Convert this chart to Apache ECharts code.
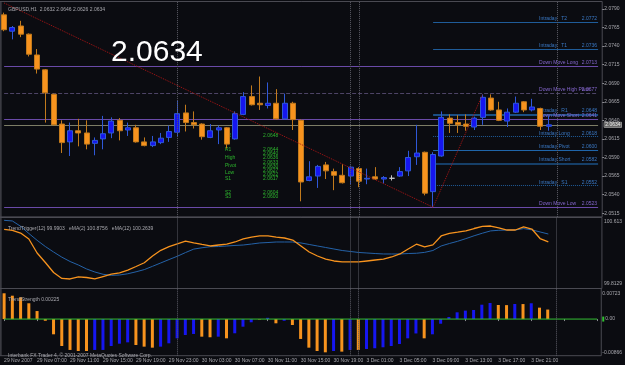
<!DOCTYPE html>
<html>
<head>
<meta charset="utf-8">
<script src="https://cdn.jsdelivr.net/npm/echarts@6/dist/echarts.min.js"></script>
<style>
html,body{margin:0;padding:0;background:#0b0c11;}
#main{width:625px;height:365px;}
</style>
</head>
<body>
<div id="main"></div>
<script>
// GBPUSD H1, 29 Nov 2007 03:00 .. 3 Dec 2007 23:00
var opens = [2.0782,2.0760,2.0767,2.0756,2.0728,2.0708,2.0675,2.0635,2.0611,2.0626,
2.0623,2.0609,2.0615,2.0623,2.0640,2.0627,2.0630,2.0611,2.0606,2.0610,
2.0617,2.0624,2.0650,2.0637,2.0635,2.0617,2.0627,2.0630,2.0615,2.0648,
2.0672,2.0663,2.0660,2.0663,2.0642,2.0663,2.0640,2.0559,2.0565,2.0580,
2.0571,2.0566,2.0565,2.0575,2.0561,2.0564,2.0561,2.0562,2.0565,2.0572,
2.0591,2.0597,2.0544,2.0592,2.0643,2.0637,2.0635,2.0631,2.0644,2.0670,
2.0654,2.0639,2.0651,2.0665,2.0654,2.0656,2.0632];
var closes = [2.0762,2.0765,2.0756,2.0729,2.0709,2.0677,2.0634,2.0610,2.0626,2.0623,
2.0608,2.0613,2.0622,2.0639,2.0626,2.0630,2.0611,2.0606,2.0611,2.0616,
2.0625,2.0649,2.0637,2.0634,2.0618,2.0626,2.0630,2.0608,2.0649,2.0672,
2.0661,2.0661,2.0663,2.0642,2.0663,2.0641,2.0557,2.0564,2.0578,2.0572,
2.0566,2.0556,2.0577,2.0558,2.0562,2.0561,2.0563,2.0562,2.0571,2.0590,
2.0596,2.0542,2.0594,2.0644,2.0636,2.0634,2.0632,2.0643,2.0671,2.0654,
2.0640,2.0651,2.0663,2.0654,2.0658,2.0632,2.0634];
var highs = [2.0785,2.0767,2.0774,2.0757,2.0736,2.0709,2.0676,2.0640,2.0637,2.0642,
2.0640,2.0617,2.0646,2.0644,2.0643,2.0637,2.0634,2.0617,2.0619,2.0623,
2.0633,2.0666,2.0661,2.0652,2.0636,2.0635,2.0633,2.0631,2.0652,2.0678,
2.0687,2.0699,2.0691,2.0682,2.0676,2.0665,2.0641,2.0585,2.0580,2.0584,
2.0575,2.0581,2.0579,2.0577,2.0575,2.0577,2.0565,2.0566,2.0577,2.0599,
2.0634,2.0598,2.0597,2.0652,2.0648,2.0647,2.0648,2.0645,2.0675,2.0675,
2.0665,2.0656,2.0672,2.0666,2.0669,2.0657,2.0646];
var lows = [2.0760,2.0749,2.0752,2.0726,2.0703,2.0637,2.0633,2.0596,2.0592,2.0605,
2.0601,2.0593,2.0601,2.0616,2.0613,2.0619,2.0610,2.0605,2.0604,2.0608,
2.0611,2.0618,2.0625,2.0629,2.0614,2.0616,2.0608,2.0602,2.0614,2.0647,
2.0660,2.0654,2.0656,2.0641,2.0641,2.0627,2.0531,2.0558,2.0549,2.0561,
2.0546,2.0555,2.0554,2.0550,2.0554,2.0560,2.0555,2.0559,2.0564,2.0565,
2.0580,2.0539,2.0523,2.0591,2.0623,2.0623,2.0626,2.0627,2.0634,2.0653,
2.0639,2.0631,2.0650,2.0651,2.0652,2.0627,2.0626];

// x labels, every 4th bar
var xLabels = ['29 Nov 2007','29 Nov 07:00','29 Nov 11:00','29 Nov 15:00','29 Nov 19:00','29 Nov 23:00',
'30 Nov 03:00','30 Nov 07:00','30 Nov 11:00','30 Nov 15:00','30 Nov 19:00',
'3 Dec 01:00','3 Dec 05:00','3 Dec 09:00','3 Dec 13:00','3 Dec 17:00','3 Dec 21:00'];
var priceTicks = [2.0515,2.0540,2.0565,2.0590,2.0615,2.0640,2.0665,2.0690,2.0715,2.0740,2.0765,2.0790];
var lastPrice = 2.0634;

// zigzag
var zigIdx = [0, 52, 58];
var zigVal = [2.0798, 2.0523, 2.0675];

// levels
var levelNames = ['Intraday   T2','Intraday   T1','Down Move Long','Down Move High Pivot','Intraday   R1',
'Down Move Short','Intraday Long','Intraday Pivot','Intraday Short','Intraday   S1','Down Move Low'];
var levelVals = [2.0772,2.0736,2.0713,2.0677,2.0648,2.0641,2.0618,2.0600,2.0582,2.0552,2.0523];
var levelFrom = 52;   // intraday levels start bar

// day separators (bar index)
var separators = [21, 42, 43, 67];

// indicator window 1
var trigger = [100.480,100.469,100.438,100.371,100.213,100.106,99.993,99.926,99.920,99.945,
99.937,99.922,99.948,99.974,99.990,100.021,100.061,100.103,100.179,100.243,
100.284,100.317,100.348,100.328,100.309,100.292,100.303,100.314,100.337,100.371,
100.393,100.405,100.405,100.393,100.382,100.359,100.292,100.224,100.179,100.145,
100.123,100.112,100.112,100.112,100.123,100.134,100.145,100.168,100.202,100.258,
100.312,100.281,100.305,100.405,100.433,100.447,100.463,100.489,100.512,100.517,
100.495,100.472,100.472,100.508,100.483,100.376,100.339];
var signal = [100.581,100.574,100.514,100.433,100.356,100.286,100.224,100.166,100.117,100.078,
100.033,99.999,99.973,99.961,99.965,99.979,100.001,100.026,100.063,100.101,
100.139,100.176,100.218,100.257,100.272,100.284,100.286,100.292,100.298,100.303,
100.314,100.326,100.331,100.337,100.337,100.337,100.326,100.309,100.292,100.275,
100.258,100.241,100.230,100.219,100.213,100.207,100.202,100.202,100.202,100.207,
100.210,100.220,100.241,100.292,100.320,100.345,100.375,100.407,100.436,100.462,
100.469,100.472,100.472,100.488,100.474,100.450,100.427];
var trigTicks = [99.8129, 100.613];

// indicator window 2
var strength = [0.0061,0.00553,0.00515,0.00374,0.0019,-0.0004,-0.0036,-0.00636,-0.0073,-0.00755,
-0.00755,-0.0073,-0.0073,-0.00636,-0.00582,-0.0055,-0.00613,-0.00652,-0.00676,-0.00652,
-0.00573,-0.00455,-0.00376,-0.00352,-0.00416,-0.0043,-0.00416,-0.00455,-0.00336,-0.0018,
-0.00076,-0.0001,0.0003,-0.001,-0.0004,-0.0014,-0.0047,-0.00676,-0.00755,-0.00786,
-0.00755,-0.0077,-0.0073,-0.0073,-0.00707,-0.0069,-0.00667,-0.00636,-0.00589,-0.00455,
-0.0034,-0.00455,-0.0036,-0.0011,0.0005,0.0016,0.002,0.00215,0.0034,0.0038,
0.00333,0.0033,0.00357,0.00355,0.00374,0.0027,0.00225];
var strengthDir = ('ddddddddddd'+'uuuuu'+'ddd'+'uuuuu'+'dd'+'u'+'d'+'uuu'+'d'+'u'+'d'+'u'+'ddddd'+
  'u'+'d'+'u'+'d'+'uuuuuuu'+'d'+'uuuuuuuu'+'dd'+'u'+'d'+'u'+'dd').split('');
var strTicks = [-0.00866, 0, 0.00723];
var zeroLevel = 0;

var BG = '#0b0c11', FRAME = '#4a4a52', TXT = '#a8a8ae';
var ORANGE = '#f7931e', BLUE = '#1616f0';
var FONT = 'Liberation Sans';

var nCats = 73;
var cats = [];
for (var i = 0; i < nCats; i++) cats.push(String(i));

var candles = [];
for (var i = 0; i < opens.length; i++) {
  var item = {value: [opens[i], closes[i], lows[i], highs[i]]};
  if (opens[i] === closes[i]) {
    item.itemStyle = {color: '#c8c8c8', color0: '#c8c8c8', borderColor: '#c8c8c8', borderColor0: '#c8c8c8'};
  }
  candles.push(item);
}

var zig = [];
for (var i = 0; i < zigIdx.length; i++) zig.push([zigIdx[i], zigVal[i]]);

var bars = [];
for (var i = 0; i < strength.length; i++) {
  bars.push({value: strength[i], itemStyle: {color: strengthDir[i] === 'u' ? BLUE : ORANGE}});
}

// style of each pivot line
var levelStyle = {
  'Intraday   T2': {c: '#1f5c99', w: 1, t: 'solid'},
  'Intraday   T1': {c: '#1f5c99', w: 1, t: 'solid'},
  'Down Move Long': {c: '#6a4aa8', w: 1, t: 'solid'},
  'Down Move High Pivot': {c: '#4d4466', w: 1, t: 'dashed'},
  'Intraday   R1': {c: '#1b4f84', w: 2, t: 'solid'},
  'Down Move Short': {c: '#6a4aa8', w: 1, t: 'solid'},
  'Intraday Long': {c: '#1f5c99', w: 1, t: 'dotted'},
  'Intraday Pivot': {c: '#1f65aa', w: 1, t: 'solid'},
  'Intraday Short': {c: '#163f68', w: 2, t: 'solid'},
  'Intraday   S1': {c: '#1f5c99', w: 1, t: 'dotted'},
  'Down Move Low': {c: '#6a4aa8', w: 1, t: 'solid'}
};

function levelLabel(name, v, col) {
  return {
    show: true, position: 'insideEndTop', distance: [1, 1],
    formatter: '{n|' + name + '}{p|' + v.toFixed(4) + '}',
    color: col, fontSize: 5, fontFamily: FONT,
    rich: {n: {width: 42, align: 'left', fontSize: 5, color: col}, p: {width: 16, align: 'right', fontSize: 5, color: col}}
  };
}

// all lines as explicit two-point segments (bar index -> price)
var levelLines = [];
levelNames.forEach(function (name, i) {
  var st = levelStyle[name];
  var v = levelVals[i];
  var intraday = name.indexOf('Intraday') === 0;
  var col = intraday ? '#3a78c4' : '#8466cc';
  var ls = {color: st.c, width: st.w, type: st.t};
  levelLines.push([
    {coord: [intraday ? levelFrom : 0, v], lineStyle: ls, label: levelLabel(name, v, col)},
    {coord: [nCats - 1, v]}
  ]);
});
levelLines.push([
  {coord: [0, lastPrice], lineStyle: {color: '#7d7d66', width: 1, type: 'solid'}, label: {show: false}},
  {coord: [nCats - 1, lastPrice]}
]);

function sepLines() {
  return separators.map(function (s) {
    return {xAxis: s, lineStyle: {color: '#5c5c66', width: 1, type: 'dotted'}, label: {show: false}};
  });
}

var gl = -1.46, gw = 607.2;
function gridBox(top, h) {
  return {left: gl, top: top, width: gw, height: h, show: true, borderColor: FRAME, borderWidth: 1, backgroundColor: 'transparent'};
}

function hiddenX(idx) {
  return {type: 'category', gridIndex: idx, data: cats, boundaryGap: true, show: false};
}

var green = [
  ['R2', 225, 136], ['R1', 225, 150], ['High', 225, 158], ['Pivot', 225, 166], ['Low', 225, 173],
  ['S1', 225, 179], ['S2', 225, 193], ['S3', 225, 197],
  ['2.0648', 263, 136], ['2.0644', 263, 150], ['2.0640', 263, 154], ['2.0636', 263, 158],
  ['2.0633', 263, 163], ['2.0630', 263, 167], ['2.0627', 263, 171], ['2.0622', 263, 175],
  ['2.0617', 263, 179], ['2.0604', 263, 193], ['2.0600', 263, 197]
];

var chart = echarts.init(document.getElementById('main'));
var option = {
  backgroundColor: BG,
  animation: false,
  textStyle: {fontFamily: FONT},
  title: [
    {text: 'GBPUSD,H1  2.0632 2.0646 2.0626 2.0634', left: 3, top: 2, textStyle: {fontSize: 5, color: TXT, fontWeight: 'normal', fontFamily: FONT}},
    {text: '2.0634', left: 106, top: 33, textStyle: {fontSize: 30, color: '#ffffff', fontWeight: 'normal', fontFamily: FONT}},
    {text: 'TrendTrigger(12) 99.9903   eMA(2) 100.8756   eMA(12) 100.2639', left: 3, top: 221, textStyle: {fontSize: 5, color: TXT, fontWeight: 'normal', fontFamily: FONT}},
    {text: 'TrendStrength 0.00225', left: 3, top: 292, textStyle: {fontSize: 5, color: TXT, fontWeight: 'normal', fontFamily: FONT}},
    {text: 'Interbank FX Trader 4, \u00a9 2001-2007 MetaQuotes Software Corp.', left: 3, top: 348.5, textStyle: {fontSize: 5, color: TXT, fontWeight: 'normal', fontFamily: FONT}}
  ],
  graphic: [{type: 'line', shape: {x1: 1, y1: 1.5, x2: 1, y2: 355.7}, style: {stroke: FRAME, lineWidth: 1}, silent: true}]
    .concat(green.map(function (g) {
      return {type: 'text', x: g[1], y: g[2], silent: true,
        style: {text: g[0], fill: '#2db52d', fontSize: 5, fontFamily: FONT, verticalAlign: 'middle'}};
    })),
  grid: [gridBox(1.5, 215.4), gridBox(217.5, 71), gridBox(288.5, 67.2)],
  xAxis: [
    hiddenX(0), hiddenX(1),
    {
      type: 'category', gridIndex: 2, data: cats, boundaryGap: true,
      axisLine: {show: false},
      axisTick: {show: true, interval: 3, alignWithLabel: true, length: 2, lineStyle: {color: '#8a8a90'}},
      axisLabel: {
        interval: 3, align: 'left', fontSize: 5, color: TXT, margin: 2,
        formatter: function (v, idx) { return (idx % 4 === 0 && xLabels[idx / 4]) || ''; }
      },
      splitLine: {show: false}
    }
  ],
  yAxis: [
    {
      type: 'value', gridIndex: 0, position: 'right', min: 2.0510, max: 2.0800, scale: true,
      axisLine: {show: false}, splitLine: {show: false},
      axisTick: {show: true, length: 2, customValues: priceTicks, lineStyle: {color: '#8a8a90'}},
      axisLabel: {
        customValues: priceTicks.concat([lastPrice]), fontSize: 5, color: TXT, margin: 2,
        formatter: function (v) {
          return Math.abs(v - lastPrice) < 1e-7 ? '{cur|' + v.toFixed(4) + '}' : v.toFixed(4);
        },
        rich: {cur: {fontSize: 5, color: '#e8e8e8', backgroundColor: '#6a6a6a', borderColor: '#b0b0b0', borderWidth: 0.5, padding: [0, 1, 0, 1]}}
      }
    },
    {
      type: 'value', gridIndex: 1, position: 'right', min: trigTicks[0], max: trigTicks[1], scale: true,
      axisLine: {show: false}, splitLine: {show: false}, axisTick: {show: false},
      axisLabel: {
        customValues: trigTicks, fontSize: 5, color: TXT, margin: 2,
        formatter: function (v) { return v > 100.5 ? '{t|' + v + '}' : '{b|' + v + '}'; },
        rich: {t: {fontSize: 5, color: TXT, padding: [9, 0, 0, 0]}, b: {fontSize: 5, color: TXT, padding: [0, 0, 9, 0]}}
      }
    },
    {
      type: 'value', gridIndex: 2, position: 'right', min: strTicks[0], max: strTicks[2], scale: true,
      axisLine: {show: false}, splitLine: {show: false}, axisTick: {show: false},
      axisLabel: {
        customValues: strTicks, fontSize: 5, color: TXT, margin: 1,
        formatter: function (v) {
          if (v === 0) return '{g|}{z|0.00}';
          return v > 0 ? '{t|' + v + '}' : '{b|' + v + '}';
        },
        rich: {
          t: {fontSize: 5, color: TXT, padding: [10, 0, 0, 0]},
          b: {fontSize: 5, color: TXT, padding: [0, 0, 7, 0]},
          g: {width: 2, height: 5, backgroundColor: '#2fbf2f'},
          z: {fontSize: 5, color: TXT, padding: [0, 0, 0, 1]}
        }
      }
    }
  ],
  series: [
    {
      type: 'candlestick', xAxisIndex: 0, yAxisIndex: 0, data: candles, barWidth: 5.5,
      itemStyle: {color: BLUE, color0: ORANGE, borderColor: '#2f58d8', borderColor0: '#c27a1c', borderWidth: 1},
      markLine: {symbol: 'none', silent: true, animation: false, data: sepLines()}
    },
    {
      type: 'line', xAxisIndex: 0, yAxisIndex: 0, data: zig, symbol: 'none',
      lineStyle: {color: '#a81414', width: 1, type: 'dotted'}, z: 3,
      markLine: {symbol: 'none', silent: true, animation: false, z: 1, data: levelLines}
    },
    {
      type: 'line', xAxisIndex: 1, yAxisIndex: 1, data: signal, symbol: 'none',
      lineStyle: {color: '#2462a8', width: 1},
      markLine: {symbol: 'none', silent: true, data: sepLines()}
    },
    {
      type: 'line', xAxisIndex: 1, yAxisIndex: 1, data: trigger, symbol: 'none',
      lineStyle: {color: ORANGE, width: 1.3}
    },
    {
      type: 'bar', xAxisIndex: 2, yAxisIndex: 2, data: bars, barWidth: 3,
      markLine: {symbol: 'none', silent: true, data: sepLines()}
    },
    {
      type: 'line', xAxisIndex: 2, yAxisIndex: 2, symbol: 'none', z: 4,
      data: [[0, zeroLevel], [nCats - 1, zeroLevel]],
      lineStyle: {color: '#34c034', width: 1, type: 'solid'}
    }
  ]
};
chart.setOption(option);
</script>
</body>
</html>
